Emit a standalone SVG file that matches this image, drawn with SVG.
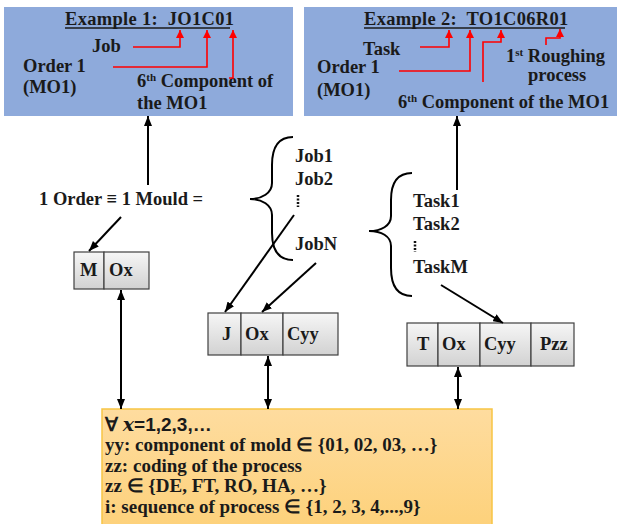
<svg xmlns="http://www.w3.org/2000/svg" width="620" height="524" viewBox="0 0 620 524">
<style>
  text { font-family: "Liberation Serif", "Times New Roman", serif; font-weight: bold; font-size: 18.5px; fill: #1a1a1a; }
  .sup { font-size: 11px; }
  .leg { font-size: 19px; }
  .blue { fill: #8eaadb; }
  .cell { fill: url(#gray); stroke: #404040; stroke-width: 1.2; }
  .conn { stroke: #000; stroke-width: 2; fill: none; }
  .red { stroke: #ff0000; stroke-width: 1.6; fill: none; }
  .brace { stroke: #000; stroke-width: 2; fill: none; }
  .dots { stroke: #111; stroke-width: 2.5; stroke-dasharray: 2,1.5; }
</style>
<defs>
  <linearGradient id="gray" x1="0" y1="0" x2="0" y2="1">
    <stop offset="0" stop-color="#f6f6f6"/>
    <stop offset="1" stop-color="#d2d2d2"/>
  </linearGradient>
  <linearGradient id="orange" x1="0" y1="0" x2="0" y2="1">
    <stop offset="0" stop-color="#fedc9f"/>
    <stop offset="1" stop-color="#fdd17a"/>
  </linearGradient>
  <marker id="ah" viewBox="0 0 10 8" refX="10" refY="4" markerWidth="10" markerHeight="8" markerUnits="userSpaceOnUse" orient="auto-start-reverse">
    <path d="M0,0 L10,4 L0,8 z" fill="#000"/>
  </marker>
  <marker id="rh" viewBox="0 0 8 8" refX="8" refY="4" markerWidth="8" markerHeight="8" markerUnits="userSpaceOnUse" orient="auto">
    <path d="M0,0 L8,4 L0,8 z" fill="#ff0000"/>
  </marker>
</defs>

<g id="example1">
  <rect class="blue" x="4" y="7" width="289" height="109"/>
  <text x="65" y="25" letter-spacing="0.3">Example 1:&#160; JO1C01</text>
  <line x1="65" y1="28" x2="230" y2="28" stroke="#1a1a1a" stroke-width="1.5"/>
  <text x="92" y="52">Job</text>
  <text x="23" y="72">Order 1</text>
  <text x="23" y="93">(MO1)</text>
  <text x="137" y="87">6<tspan class="sup" dy="-6">th</tspan><tspan dy="6"> Component of</tspan></text>
  <text x="137" y="109">the MO1</text>
  <polyline class="red" points="133,47 180,47 180,30" marker-end="url(#rh)"/>
  <polyline class="red" points="113,67 207,67 207,30" marker-end="url(#rh)"/>
  <polyline class="red" points="229,78 233,78 233,30" marker-end="url(#rh)"/>
</g>

<g id="example2">
  <rect class="blue" x="304" y="7" width="313" height="109"/>
  <text x="364" y="25" letter-spacing="0.3">Example 2:&#160; TO1C06R01</text>
  <line x1="364" y1="28" x2="565" y2="28" stroke="#1a1a1a" stroke-width="1.5"/>
  <text x="363" y="55">Task</text>
  <text x="317" y="73">Order 1</text>
  <text x="317" y="96">(MO1)</text>
  <text x="398" y="108">6<tspan class="sup" dy="-6">th</tspan><tspan dy="6"> Component of the MO1</tspan></text>
  <text x="506" y="62">1<tspan class="sup" dy="-6">st</tspan><tspan dy="6"> Roughing</tspan></text>
  <text x="528" y="81">process</text>
  <polyline class="red" points="420,47 449,47 449,30" marker-end="url(#rh)"/>
  <polyline class="red" points="399,71 470,71 470,30" marker-end="url(#rh)"/>
  <polyline class="red" points="483,82 483,42 501,42 501,30" marker-end="url(#rh)"/>
  <polyline class="red" points="546,45 546,38 560,38 560,29" marker-end="url(#rh)"/>
</g>

<g id="order-mould">
  <text x="39" y="205">1 Order ≡ 1 Mould =</text>
</g>

<g id="jobs">
  <path class="brace" d="M293,137 C278,137 272,148 272,165 L272,183 C272,193 262,199 250,199 C262,199 272,205 272,215 L272,233 C272,250 278,260 293,260"/>
  <text x="295" y="162">Job1</text>
  <text x="295" y="185">Job2</text>
  <line class="dots" x1="298" y1="195" x2="298" y2="207"/>
  <text x="295" y="250">JobN</text>
</g>

<g id="tasks">
  <path class="brace" d="M412,173 C397,173 391,184 391,200 L391,216 C391,226 381,231 369,231 C381,231 391,236 391,246 L391,268 C391,286 397,296 412,296"/>
  <text x="413" y="207">Task1</text>
  <text x="413" y="230">Task2</text>
  <line class="dots" x1="415" y1="241" x2="415" y2="252"/>
  <text x="413" y="273">TaskM</text>
</g>

<g id="mould-code">
  <rect class="cell" x="74" y="252" width="30" height="37"/>
  <rect class="cell" x="104" y="252" width="45" height="37"/>
  <text x="80" y="276">M</text>
  <text x="109" y="276">Ox</text>
</g>

<g id="job-code">
  <rect class="cell" x="208" y="313" width="33" height="42"/>
  <rect class="cell" x="241" y="313" width="42" height="42"/>
  <rect class="cell" x="283" y="313" width="55" height="42"/>
  <text x="222" y="340">J</text>
  <text x="245" y="340">Ox</text>
  <text x="287" y="340">Cyy</text>
</g>

<g id="task-code">
  <rect class="cell" x="407" y="323" width="31" height="43"/>
  <rect class="cell" x="438" y="323" width="42" height="43"/>
  <rect class="cell" x="480" y="323" width="51" height="43"/>
  <rect class="cell" x="531" y="323" width="43" height="43"/>
  <text x="417" y="350">T</text>
  <text x="442" y="350">Ox</text>
  <text x="484" y="350">Cyy</text>
  <text x="540" y="350">Pzz</text>
</g>

<g id="legend">
  <rect x="102" y="409" width="390" height="120" fill="url(#orange)" stroke="#f7c544" stroke-width="1.5"/>
  <text class="leg" x="105" y="431">∀ <tspan font-style="italic" font-family="'DejaVu Serif', serif">x</tspan><tspan font-family="'Liberation Sans', Arial, sans-serif">=1,2,3,…</tspan></text>
  <text class="leg" x="105" y="451">yy: component of mold ∈ {01, 02, 03, …}</text>
  <text class="leg" x="105" y="472">zz: coding of the process</text>
  <text class="leg" x="105" y="492">zz ∈ {DE, FT, RO, HA, …}</text>
  <text class="leg" x="105" y="513">i: sequence of process ∈ {1, 2, 3, 4,...,9}</text>
</g>

<g id="connectors">
  <line class="conn" x1="148" y1="185" x2="148" y2="116" marker-end="url(#ah)"/>
  <line class="conn" x1="121" y1="217" x2="89" y2="251" marker-end="url(#ah)"/>
  <line class="conn" x1="121" y1="290" x2="121" y2="409" marker-start="url(#ah)" marker-end="url(#ah)"/>
  <line class="conn" x1="294" y1="215" x2="225" y2="312" marker-end="url(#ah)"/>
  <line class="conn" x1="316" y1="263" x2="262" y2="312" marker-end="url(#ah)"/>
  <line class="conn" x1="268" y1="356" x2="268" y2="409" marker-start="url(#ah)" marker-end="url(#ah)"/>
  <line class="conn" x1="457" y1="190" x2="457" y2="116" marker-end="url(#ah)"/>
  <line class="conn" x1="441" y1="285" x2="503" y2="323" marker-end="url(#ah)"/>
  <line class="conn" x1="458" y1="367" x2="458" y2="409" marker-start="url(#ah)" marker-end="url(#ah)"/>
</g>
</svg>
